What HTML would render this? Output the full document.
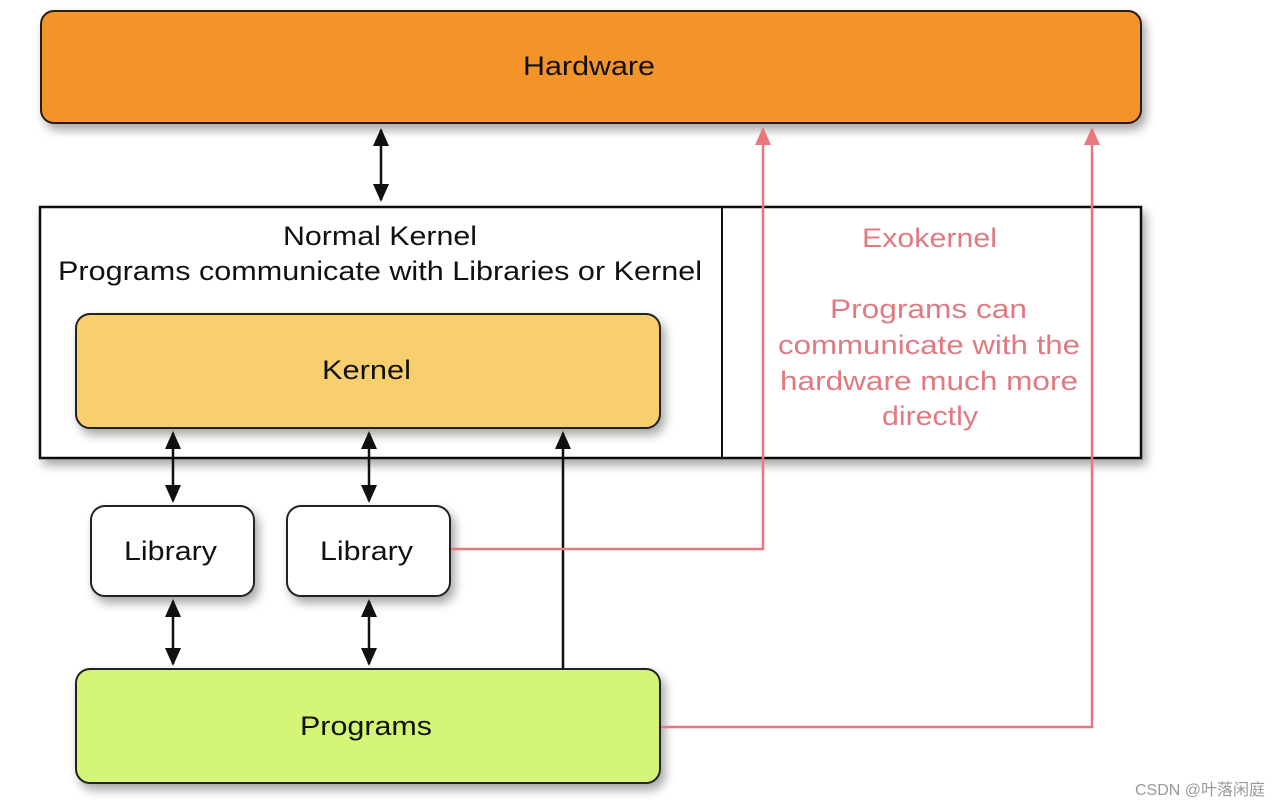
<!DOCTYPE html>
<html><head><meta charset="utf-8"><style>
html,body{margin:0;padding:0;background:#fff;}
svg{display:block;}
text{font-family:"Liberation Sans",sans-serif;}
</style></head><body>
<svg width="1278" height="807" viewBox="0 0 1278 807" xmlns="http://www.w3.org/2000/svg">
<defs>
<filter id="sh" x="-10%" y="-20%" width="130%" height="150%"><feDropShadow dx="4" dy="6" stdDeviation="5" flood-color="#000" flood-opacity="0.35"/></filter>
<marker id="ar" markerWidth="18" markerHeight="16" refX="16" refY="8" orient="auto" markerUnits="userSpaceOnUse"><path d="M0,0 L18,8 L0,16 z" fill="#e8787e"/></marker>
<marker id="ak" markerWidth="18" markerHeight="16" refX="16" refY="8" orient="auto-start-reverse" markerUnits="userSpaceOnUse"><path d="M0,0 L18,8 L0,16 z" fill="#111"/></marker>
</defs>
<rect width="1278" height="807" fill="#fff"/>
<rect x="41" y="11" width="1100" height="112" rx="13" fill="#f39429" stroke="#2a1a10" stroke-width="2" filter="url(#sh)"/>
<text x="523" y="75" font-size="27" textLength="132" lengthAdjust="spacingAndGlyphs" fill="#111">Hardware</text>

<rect x="40" y="207" width="1101" height="251" fill="#fff" stroke="#111" stroke-width="2.5" filter="url(#sh)"/>
<line x1="722" y1="207" x2="722" y2="458" stroke="#111" stroke-width="2"/>
<text x="283" y="245" font-size="27" textLength="194" lengthAdjust="spacingAndGlyphs" fill="#111">Normal Kernel</text>
<text x="58" y="280" font-size="27" textLength="644" lengthAdjust="spacingAndGlyphs" fill="#111">Programs communicate with Libraries or Kernel</text>
<g font-size="27" fill="#e07a82">
<text x="862" y="247" textLength="135" lengthAdjust="spacingAndGlyphs">Exokernel</text>
<text x="830" y="318" textLength="197" lengthAdjust="spacingAndGlyphs">Programs can</text>
<text x="778" y="354" textLength="302" lengthAdjust="spacingAndGlyphs">communicate with the</text>
<text x="780" y="390" textLength="298" lengthAdjust="spacingAndGlyphs">hardware much more</text>
<text x="882" y="425" textLength="96" lengthAdjust="spacingAndGlyphs">directly</text>
</g>

<rect x="76" y="314" width="584" height="114" rx="14" fill="#f8cf6e" stroke="#222" stroke-width="2" filter="url(#sh)"/>
<text x="322" y="379" font-size="27" textLength="89" lengthAdjust="spacingAndGlyphs" fill="#111">Kernel</text>

<rect x="91" y="506" width="163" height="90" rx="14" fill="#fff" stroke="#222" stroke-width="2" filter="url(#sh)"/>
<text x="124" y="560" font-size="27" textLength="93" lengthAdjust="spacingAndGlyphs" fill="#111">Library</text>
<rect x="287" y="506" width="163" height="90" rx="14" fill="#fff" stroke="#222" stroke-width="2" filter="url(#sh)"/>
<text x="320" y="560" font-size="27" textLength="93" lengthAdjust="spacingAndGlyphs" fill="#111">Library</text>

<rect x="76" y="669" width="584" height="114" rx="14" fill="#d5f577" stroke="#222" stroke-width="2" filter="url(#sh)"/>
<text x="300" y="735" font-size="27" textLength="132" lengthAdjust="spacingAndGlyphs" fill="#111">Programs</text>

<g stroke="#111" stroke-width="2.5" fill="none">
<line x1="381" y1="130" x2="381" y2="200" marker-start="url(#ak)" marker-end="url(#ak)"/>
<line x1="173" y1="433" x2="173" y2="501" marker-start="url(#ak)" marker-end="url(#ak)"/>
<line x1="369" y1="433" x2="369" y2="501" marker-start="url(#ak)" marker-end="url(#ak)"/>
<line x1="173" y1="601" x2="173" y2="664" marker-start="url(#ak)" marker-end="url(#ak)"/>
<line x1="369" y1="601" x2="369" y2="664" marker-start="url(#ak)" marker-end="url(#ak)"/>
<line x1="563" y1="669" x2="563" y2="433" marker-end="url(#ak)"/>
</g>
<g stroke="#e8787e" stroke-width="2.5" fill="none">
<polyline points="451,549 763,549 763,129" marker-end="url(#ar)"/>
<polyline points="661,727 1092,727 1092,129" marker-end="url(#ar)"/>
</g>
<text x="1265" y="795" font-size="16" text-anchor="end" fill="#999" style='font-family:"Liberation Sans","Noto Sans CJK SC",sans-serif'>CSDN @叶落闲庭</text>
</svg>
</body></html>
